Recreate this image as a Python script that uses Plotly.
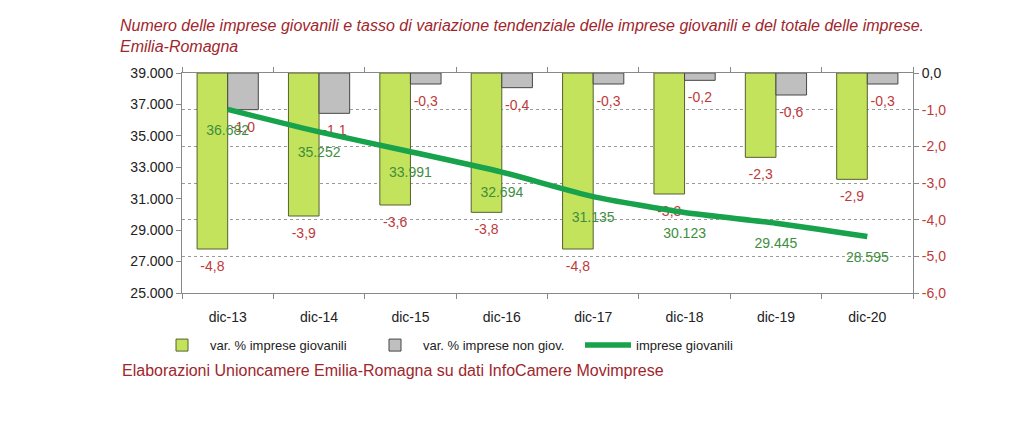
import plotly.graph_objects as go

categories = ["dic-13", "dic-14", "dic-15", "dic-16", "dic-17", "dic-18", "dic-19", "dic-20"]
var_giovani = [-4.8, -3.9, -3.6, -3.8, -4.8, -3.3, -2.3, -2.9]
var_non_giov = [-1.0, -1.1, -0.3, -0.4, -0.3, -0.2, -0.6, -0.3]
imprese_giovani = [36682, 35252, 33991, 32694, 31135, 30123, 29445, 28595]

left_tickvals = [25000, 27000, 29000, 31000, 33000, 35000, 37000, 39000]
left_ticktext = ["25.000", "27.000", "29.000", "31.000", "33.000", "35.000", "37.000", "39.000"]
right_tickvals = [0, -1, -2, -3, -4, -5, -6]
right_ticktext = ["<span style='color:#222222'>0,0</span>", "-1,0", "-2,0", "-3,0", "-4,0", "-5,0", "-6,0"]

FONT = "Liberation Sans, Arial, sans-serif"
RED = "#C0393B"
DARKRED = "#A0262C"
LBLGREEN = "#3E8E3E"
BARGAP = 0.33

fig = go.Figure()

fig.add_trace(go.Bar(
    x=categories, y=var_giovani, name="var. % imprese giovanili",
    offsetgroup="g", alignmentgroup="bars",
    marker=dict(color="#C4E35C", line=dict(color="#55612F", width=1)),
    xaxis="x", yaxis="y", hoverinfo="skip"))
fig.add_trace(go.Bar(
    x=categories, y=var_non_giov, name="var. % imprese non giov.",
    offsetgroup="n", alignmentgroup="bars",
    marker=dict(color="#BFBFBF", line=dict(color="#474747", width=1)),
    xaxis="x", yaxis="y", hoverinfo="skip"))

# bar value labels
fig.add_trace(go.Scatter(
    x=categories, y=var_giovani, mode="markers+text", offsetgroup="g", alignmentgroup="bars",
    text=[f"{v:.1f}".replace(".", ",") for v in var_giovani],
    textposition="bottom center", textfont=dict(size=14, color=RED, family=FONT),
    marker=dict(size=17, color="rgba(0,0,0,0)"), showlegend=False,
    xaxis="x", yaxis="y", hoverinfo="skip"))
fig.add_trace(go.Scatter(
    x=categories, y=var_non_giov, mode="markers+text", offsetgroup="n", alignmentgroup="bars",
    text=[f"{v:.1f}".replace(".", ",") for v in var_non_giov],
    textposition="bottom center", textfont=dict(size=14, color=RED, family=FONT),
    marker=dict(size=17, color="rgba(0,0,0,0)"), showlegend=False,
    xaxis="x", yaxis="y", hoverinfo="skip"))

fig.add_trace(go.Scatter(
    x=categories, y=imprese_giovani, name="imprese giovanili",
    offsetgroup="line", alignmentgroup="line",
    mode="lines+markers+text", line=dict(color="#17A24B", width=5.5, shape="spline", smoothing=0.6),
    marker=dict(size=22, color="rgba(0,0,0,0)"),
    text=[f"{v:,}".replace(",", ".") for v in imprese_giovani],
    textposition="bottom center", textfont=dict(size=14, color=LBLGREEN, family=FONT),
    xaxis="x2", yaxis="y2", hoverinfo="skip"))

fig.update_layout(
    width=1024, height=445,
    margin=dict(l=182, r=111, t=73, b=152),
    paper_bgcolor="white", plot_bgcolor="white",
    font=dict(family=FONT, size=14, color="#222222"),
    barmode="group", bargap=BARGAP, scattermode="group", scattergap=BARGAP,
    title=dict(
        text="<i>Numero delle imprese giovanili e tasso di variazione tendenziale delle imprese giovanili e del totale delle imprese.</i><br><i>Emilia-Romagna</i>",
        x=120/1024, xanchor="left", xref="container",
        y=1 - 31/445, yanchor="top", yref="container",
        font=dict(size=16, color=DARKRED, family=FONT)),
    xaxis=dict(type="category", tickson="boundaries", ticks="outside", ticklen=5,
               tickcolor="#888888", showline=True, linecolor="#888888", linewidth=1,
               mirror="ticks", showgrid=False, ticklabelstandoff=11,
               tickfont=dict(size=14, color="#222222")),
    xaxis2=dict(type="category", overlaying="x", matches="x", visible=False),
    yaxis=dict(side="right", range=[-6, 0], tickvals=right_tickvals, ticktext=right_ticktext,
               showgrid=True, gridcolor="#9A9A9A", griddash="dot", gridwidth=1,
               zeroline=False, showline=True, linecolor="#888888", ticks="outside",
               ticklen=5, tickcolor="#888888", tickfont=dict(size=14, color=RED)),
    yaxis2=dict(side="left", overlaying="y", range=[25000, 39000],
                tickvals=left_tickvals, ticktext=left_ticktext, showgrid=False,
                zeroline=False, showline=True, linecolor="#888888", ticks="outside",
                ticklen=5, tickcolor="#888888", tickfont=dict(size=14, color="#222222")),
    legend=dict(orientation="h", x=(154-182)/731, xanchor="left", y=-0.237, yanchor="middle",
                font=dict(size=13, color="#222222"), traceorder="normal",
                entrywidth=152, entrywidthmode="pixels", itemwidth=46,
                bgcolor="rgba(0,0,0,0)"),
    showlegend=True,
    annotations=[dict(
        text="Elaborazioni Unioncamere Emilia-Romagna su dati InfoCamere Movimprese",
        xref="paper", yref="paper", x=(120-182)/731, y=(293-370)/219.7,
        xanchor="left", yanchor="middle", showarrow=False,
        font=dict(size=16, color=DARKRED, family=FONT))],
)

fig.write_html("out.html")
